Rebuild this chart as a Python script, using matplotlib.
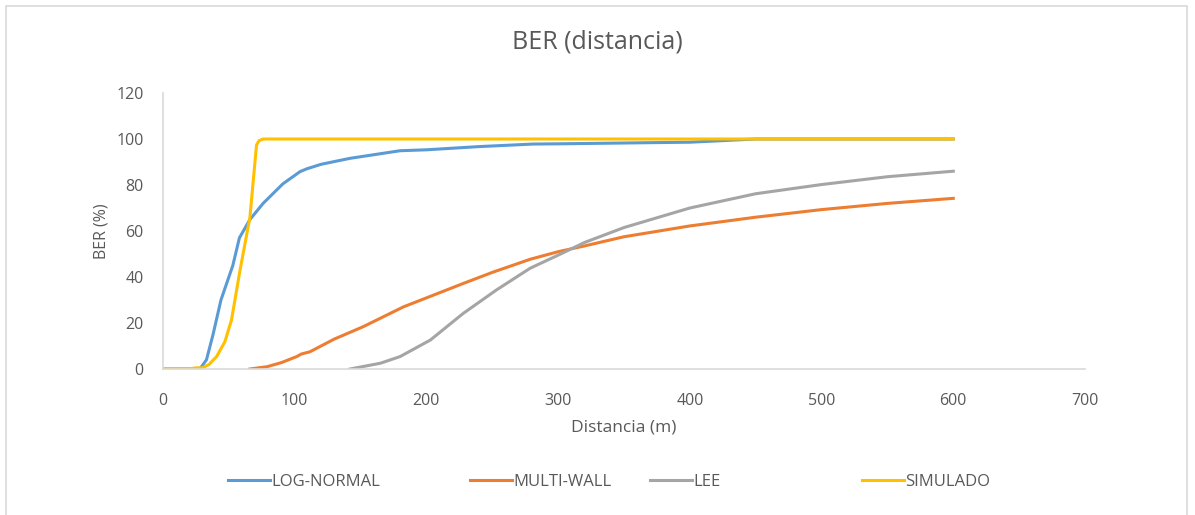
import matplotlib
matplotlib.use("Agg")
import matplotlib.pyplot as plt
from matplotlib.patches import Rectangle
from matplotlib.lines import Line2D

# Distance (m) / BER (%) for each propagation model
lognormal_x = [0, 20, 28, 33, 38, 44, 50, 53, 58, 66, 76, 91, 104, 109, 120, 142, 180, 200, 240, 281, 300, 370, 400, 450, 500, 600]
lognormal_y = [0, 0, 0, 4, 15, 30, 40, 45, 57, 65, 72, 80.5, 85.8, 87, 89, 91.6, 94.9, 95.3, 96.7, 97.8, 97.9, 98.4, 98.6, 100, 100, 100]

multiwall_x = [66, 79, 90, 101.5, 105, 111.6, 130, 152, 182.5, 228, 250, 278.7, 300, 320, 350, 400, 450, 500, 550, 600]
multiwall_y = [0, 1, 2.8, 5.4, 6.5, 7.5, 13, 18.4, 27, 37.2, 42, 47.7, 51, 53.5, 57.5, 62.2, 66, 69.3, 72, 74.2]

lee_x = [142, 165, 180, 203, 228, 253, 278.7, 300, 320, 350, 400, 450, 500, 550, 600]
lee_y = [0, 2.5, 5.4, 12.6, 24.2, 34.3, 43.8, 49.5, 55, 61.5, 70, 76.2, 80.2, 83.6, 86]

simulado_x = [0, 20, 25, 30, 35, 40.7, 47, 52, 58.5, 66, 71, 73, 76, 100, 200, 300, 400, 500, 600]
simulado_y = [0, 0, 0.5, 0.5, 2, 5.4, 11.9, 21.3, 43, 66, 97.4, 99.3, 100, 100, 100, 100, 100, 100, 100]

series = [
    ("LOG-NORMAL", lognormal_x, lognormal_y, "#5b9bd5"),
    ("MULTI-WALL", multiwall_x, multiwall_y, "#ed7d31"),
    ("LEE", lee_x, lee_y, "#a5a5a5"),
    ("SIMULADO", simulado_x, simulado_y, "#ffc000"),
]

x_ticks = [0, 100, 200, 300, 400, 500, 600, 700]
y_ticks = [0, 20, 40, 60, 80, 100, 120]

text_color = "#595959"
axis_color = "#d9d9d9"
plt.rcParams["font.family"] = ["Open Sans", "DejaVu Sans"]

W, H = 1195, 515
fig = plt.figure(figsize=(W / 100, H / 100), dpi=100)
fig.patches.append(Rectangle((6 / W, -0.01), (1187 - 6) / W, 1 - 6 / H + 0.01,
                             transform=fig.transFigure, fill=False,
                             edgecolor=axis_color, linewidth=1.2))

ax = fig.add_axes([163 / W, 1 - 369 / H, (1085 - 163) / W, (369 - 93) / H])

handles = []
for name, xs, ys, color in series:
    line, = ax.plot(xs, ys, color=color, linewidth=2.2, label=name, solid_joinstyle="round")
    handles.append(line)

ax.set_xlim(0, 700)
ax.set_ylim(0, 120)
ax.set_xticks(x_ticks)
ax.set_yticks(y_ticks)
ax.tick_params(axis="y", length=0, labelsize=11.5, colors=text_color, pad=14)
ax.tick_params(axis="x", length=0, labelsize=11.5, colors=text_color, pad=17)
for side in ("top", "right"):
    ax.spines[side].set_visible(False)
for side in ("left", "bottom"):
    ax.spines[side].set_color(axis_color)
    ax.spines[side].set_linewidth(1.2)

ax.set_xlabel("Distancia (m)", fontsize=12.5, color=text_color, labelpad=8)
ax.set_ylabel("BER (%)", fontsize=11.5, color=text_color, labelpad=5)
fig.text(0.5, 1 - 42 / H, "BER (distancia)", ha="center", va="center",
         fontsize=18, color=text_color)

# Legend entries placed individually along the bottom
legend_x = [228, 470, 650, 862]
for lx, h in zip(legend_x, handles):
    leg = fig.legend([Line2D([], [], color=h.get_color(), linewidth=2.2)], [h.get_label()],
                     loc="center left", bbox_to_anchor=(lx / W, 1 - 482 / H),
                     frameon=False, fontsize=12, handlelength=2.5, handletextpad=0.1,
                     borderpad=0, borderaxespad=0)
    for t in leg.get_texts():
        t.set_color(text_color)

fig.savefig("out.png", dpi=100)
